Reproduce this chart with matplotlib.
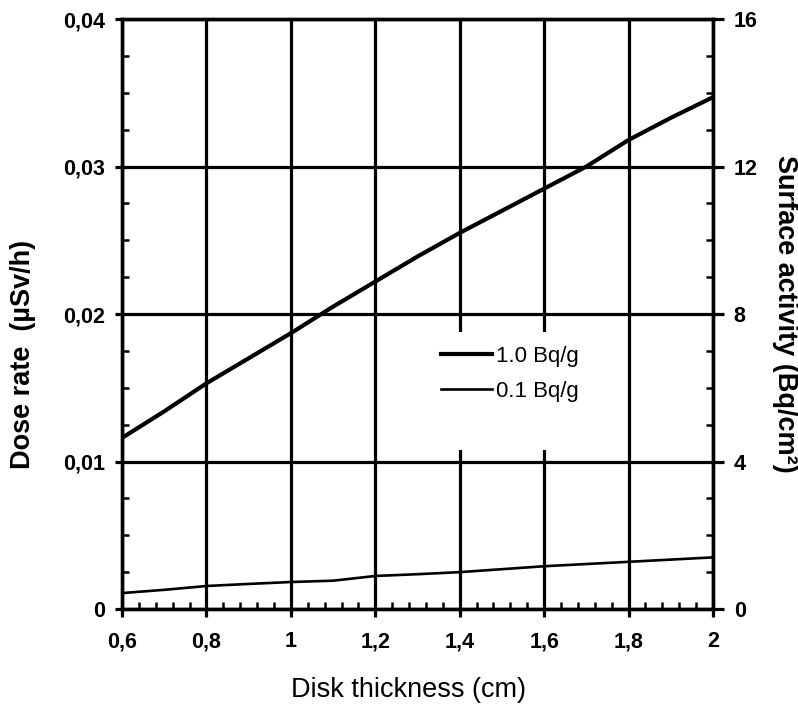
import matplotlib
matplotlib.use("Agg")
import matplotlib.pyplot as plt
from matplotlib.patches import Rectangle
from matplotlib.ticker import MultipleLocator, FuncFormatter

plt.rcParams['font.family'] = ['Liberation Sans', 'DejaVu Sans']

# disk thickness (cm) and dose rate (uSv/h)
thickness = [0.6, 0.7, 0.8, 0.9, 1.0, 1.1, 1.2, 1.3, 1.4, 1.5, 1.6, 1.7, 1.8, 1.9, 2.0]
dose_1bq = [0.0116, 0.0134, 0.0153, 0.0170, 0.0187, 0.0205, 0.0222, 0.0239,
            0.0255, 0.0270, 0.0285, 0.0300, 0.0318, 0.0333, 0.0347]
dose_01bq = [0.00108, 0.00130, 0.00156, 0.00170, 0.00183, 0.00192, 0.00224, 0.00236,
             0.00250, 0.00270, 0.00290, 0.00305, 0.00320, 0.00335, 0.00350]

x_ticks = [0.6, 0.8, 1.0, 1.2, 1.4, 1.6, 1.8, 2.0]
y_ticks = [0, 0.01, 0.02, 0.03, 0.04]
y2_ticks = [0, 4, 8, 12, 16]

fig = plt.figure(figsize=(7.98, 7.07), dpi=100)
ax = fig.add_axes([0.1529, 0.1386, 0.7406, 0.8345])

ax.plot(thickness, dose_1bq, color='black', lw=3.0, label='1.0 Bq/g', zorder=3)
ax.plot(thickness, dose_01bq, color='black', lw=1.9, label='0.1 Bq/g', zorder=3)

ax.set_xlim(0.6, 2.0)
ax.set_ylim(0, 0.04)
ax.set_xticks(x_ticks)
ax.set_yticks(y_ticks)
ax.xaxis.set_minor_locator(MultipleLocator(0.04))
ax.yaxis.set_minor_locator(MultipleLocator(0.0025))

comma = lambda v, p: ('%g' % round(v, 3)).replace('.', ',')
ax.xaxis.set_major_formatter(FuncFormatter(comma))
ax.yaxis.set_major_formatter(FuncFormatter(comma))

ax.grid(True, which='major', color='black', lw=2.3)
for s in ax.spines.values():
    s.set_linewidth(2.4)
ax.tick_params(axis='y', which='major', direction='out', length=5, width=2.3, labelsize=15.5, pad=7)
ax.tick_params(axis='x', which='major', direction='out', length=6, width=2.3, labelsize=15.5, pad=10)
ax.tick_params(which='minor', direction='in', length=5, width=1.8)
for lab in ax.get_xticklabels() + ax.get_yticklabels():
    lab.set_fontweight('bold')

ax.set_xlabel('Disk thickness (cm)', fontsize=19.5, va='center')
ax.set_ylabel('Dose rate  (\u00b5Sv/h)', fontsize=19.5, fontweight='bold', va='center')
ax.xaxis.set_label_coords(0.484, -0.137)
ax.yaxis.set_label_coords(-0.1675, 0.432)

ax2 = ax.twinx()
ax2.set_ylim(0, 16)
ax2.set_yticks(y2_ticks)
ax2.yaxis.set_minor_locator(MultipleLocator(1))
ax2.tick_params(which='major', direction='out', length=8, width=2.3, labelsize=15.5, pad=7)
ax2.tick_params(which='minor', direction='in', length=5, width=1.8)
for lab in ax2.get_yticklabels():
    lab.set_fontweight('bold')
ax2.set_ylabel('Surface activity (Bq/cm\u00b2)', fontsize=19.5, fontweight='bold',
               rotation=-90, va='center')
ax2.yaxis.set_label_coords(1.122, 0.50)
for s in ax2.spines.values():
    s.set_linewidth(2.4)

# white patch behind the legend, hiding the grid there
ax.add_patch(Rectangle((0.531, 0.269), 0.25, 0.20, transform=ax.transAxes,
                       facecolor='white', edgecolor='none', zorder=2.8))

ax2.legend(*ax.get_legend_handles_labels(), loc='upper left',
           bbox_to_anchor=(0.540, 0.446), frameon=False,
           fontsize=16, handlelength=2.3, handletextpad=0.15,
           labelspacing=0.62, borderpad=0, borderaxespad=0)

fig.savefig('out.png', dpi=100)
